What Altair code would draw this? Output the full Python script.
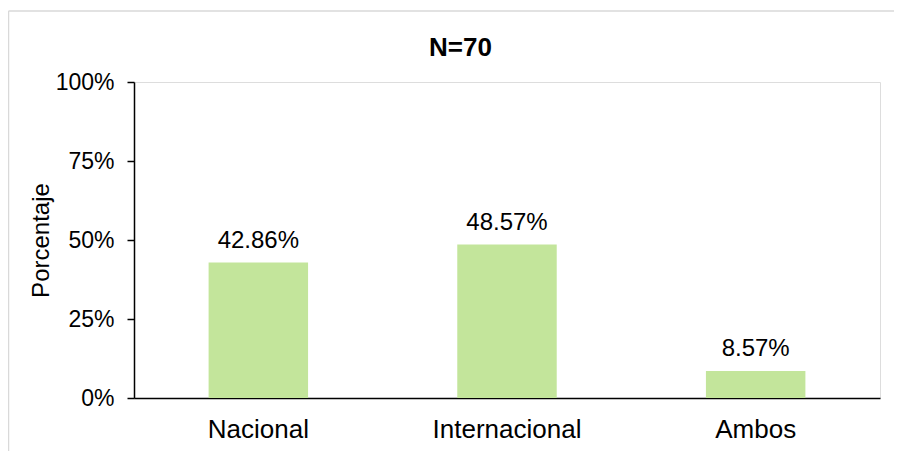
import altair as alt
import pandas as pd

categories = ["Nacional", "Internacional", "Ambos"]
percentages = [0.4286, 0.4857, 0.0857]
y_ticks = [0, 0.25, 0.5, 0.75, 1.0]
chart_title = "N=70"

df = pd.DataFrame({"categoria": categories, "porcentaje": percentages})

FONT = "Liberation Sans"
W, H = 746, 316

x_enc = alt.X(
    "categoria:N",
    sort=categories,
    scale=alt.Scale(paddingInner=0.6, paddingOuter=0.3),
    axis=alt.Axis(
        title=None,
        labelAngle=0,
        labelFont=FONT,
        labelFontSize=26,
        labelColor="#000000",
        labelPadding=18,
        ticks=False,
        domainColor="#000000",
        domainWidth=1.5,
    ),
)
y_enc = alt.Y(
    "porcentaje:Q",
    scale=alt.Scale(domain=[0, 1]),
    axis=alt.Axis(
        title="Porcentaje",
        values=y_ticks,
        format=".0%",
        grid=False,
        labelFont=FONT,
        labelFontSize=23,
        labelColor="#000000",
        labelPadding=13,
        tickSize=7,
        tickColor="#000000",
        tickWidth=1.5,
        domainColor="#000000",
        domainWidth=1.5,
        titleFont=FONT,
        titleFontSize=24,
        titleFontWeight="normal",
        titleColor="#000000",
        titlePadding=2,
    ),
)

bars = alt.Chart(df).mark_bar(color="#C3E59B").encode(x=x_enc, y=y_enc)

labels = alt.Chart(df).mark_text(
    font=FONT, fontSize=24, color="#000000", baseline="alphabetic", dy=-15
).encode(
    x=alt.X("categoria:N", sort=categories),
    y=alt.Y("porcentaje:Q"),
    text=alt.Text("porcentaje:Q", format=".2%"),
)

one = pd.DataFrame({"t": [chart_title]})

frame_top = alt.Chart(one).mark_rule(color="#D9D9D9", strokeWidth=1.5).encode(
    x=alt.value(-125.5), x2=alt.value(W + 80), y=alt.value(-71),
)
frame_left = alt.Chart(one).mark_rule(color="#D9D9D9", strokeWidth=1.5).encode(
    x=alt.value(-125.5), y=alt.value(-71), y2=alt.value(H + 80),
)

title = alt.Chart(one).mark_text(
    font=FONT, fontSize=26, fontWeight="bold", color="#000000",
    align="center", baseline="alphabetic",
).encode(
    x=alt.value(326.5), y=alt.value(-26), text="t:N",
)

chart = alt.layer(frame_top, frame_left, bars, labels, title).properties(
    width=W,
    height=H,
    autosize=alt.AutoSizeParams(type="none"),
    padding={"left": 126, "top": 74, "right": 14, "bottom": 53},
).configure_view(stroke=None).configure(background="white")

chart.save("out.html", embed_options={"renderer": "svg", "actions": False})
